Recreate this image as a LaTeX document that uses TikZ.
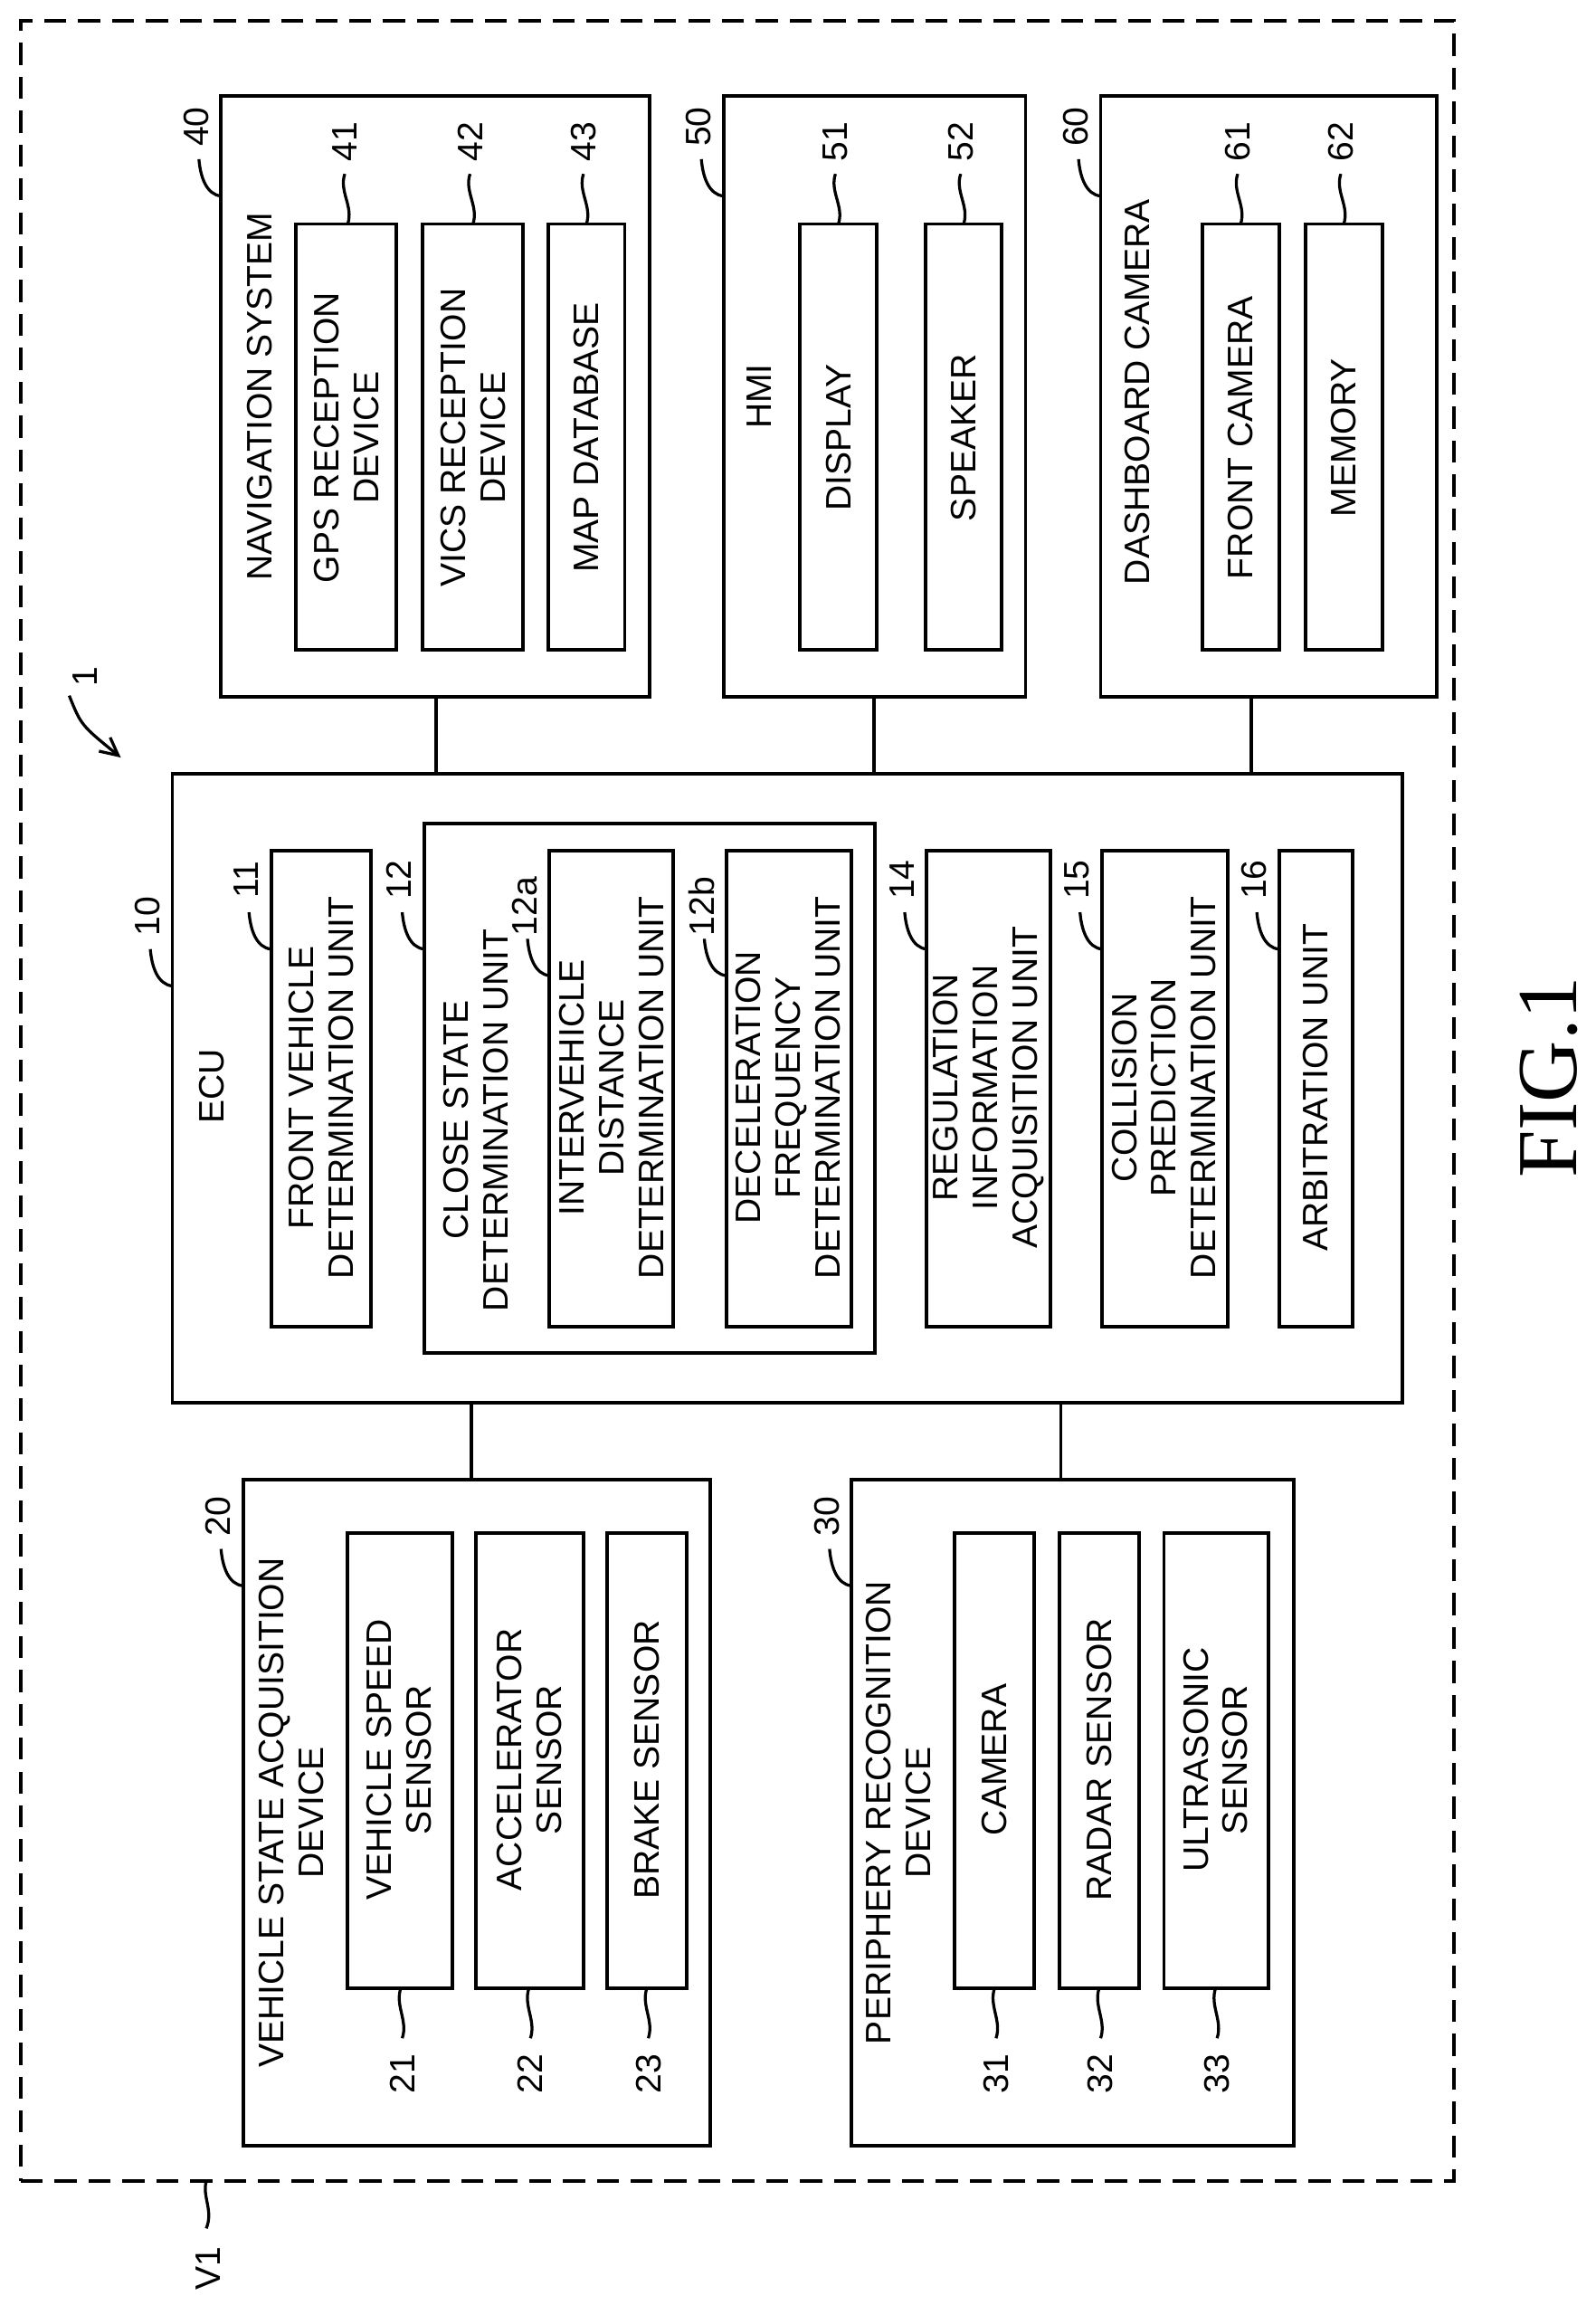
\documentclass[tikz,border=0pt]{standalone}
\usepackage{fontspec}
\setmainfont{Liberation Sans}
\newfontfamily\figfont{Liberation Serif}
\usetikzlibrary{fit,arrows.meta}
\begin{document}
\begin{tikzpicture}[x=1pt,y=-1pt,
  box/.style={draw,line width=2.4pt,inner sep=0pt},
  txt/.style={rotate=90,align=center,font=\fontsize{24}{27}\selectfont,inner sep=0pt},
  num/.style={rotate=90,font=\fontsize{24}{27}\selectfont,inner sep=0pt},
  ld/.style={line width=2pt},
  conn/.style={line width=2.4pt}]
\useasboundingbox (0,0) rectangle (1083,1564);
\newcommand{\bx}[5]{\node[box,fit={(#2,#3) (#4,#5)}] (#1) {};}
% hook leader from box left edge, number above
\newcommand{\leadL}[4]{\coordinate (#1s) at (#2,#3);
  \coordinate (#1e) at ($(#2,#3)+(-15,-25)$);
  \draw[ld] (#1s) .. controls +(-10,-1) and +(1,12) .. (#1e);
  \node[num] (#1n) at ($(#2,#3)+(-17,-47)$) {#4};}
% wavy leader up from box top
\newcommand{\leadU}[4]{\coordinate (#1s) at (#2,#3);
  \coordinate (#1e) at ($(#2,#3)+(-2,-34)$);
  \draw[ld] (#1s) .. controls +(4,-12) and +(-4,12) .. (#1e);
  \node[num] (#1n) at ($(#2,#3)+(-2,-56)$) {#4};}
% wavy leader down from box bottom
\newcommand{\leadD}[4]{\coordinate (#1s) at (#2,#3);
  \coordinate (#1e) at ($(#2,#3)+(1,34)$);
  \draw[ld] (#1s) .. controls +(-4,12) and +(4,-12) .. (#1e);
  \node[num] (#1n) at ($(#2,#3)+(1,58)$) {#4};}
\usetikzlibrary{calc}

% outer dashed frame
\node[draw,line width=2.4pt,dash pattern=on 15pt off 8pt,inner sep=0pt,fit={(14,14) (987,1480)}] (v1) {};

% navigation
\bx{nav}{150}{65}{441}{473}
\node[txt] (navt) at (176,269) {NAVIGATION SYSTEM};
\bx{gps}{201}{152}{269}{441}
\node[txt] (gpst) at (235,297) {GPS RECEPTION\\DEVICE};
\bx{vics}{287}{152}{355}{441}
\node[txt] (vicst) at (321,297) {VICS RECEPTION\\DEVICE};
\bx{map}{372}{152}{424}{441}
\node[txt] (mapt) at (398,297) {MAP DATABASE};
\leadL{l40}{150}{133}{40}
\leadU{l41}{236}{152}{41}
\leadU{l42}{321}{152}{42}
\leadU{l43}{398}{152}{43}

% HMI
\bx{hmi}{491}{65}{696}{473}
\node[txt] (hmit) at (515,269) {HMI};
\bx{disp}{543}{152}{595}{441}
\node[txt] (dispt) at (569,297) {DISPLAY};
\bx{spk}{628}{152}{680}{441}
\node[txt] (spkt) at (654,297) {SPEAKER};
\leadL{l50}{491}{133}{50}
\leadU{l51}{569}{152}{51}
\leadU{l52}{654}{152}{52}

% dashboard camera
\bx{dash}{747}{65}{975}{473}
\node[txt] (dasht) at (772,266) {DASHBOARD CAMERA};
\bx{fcam}{816}{152}{868}{441}
\node[txt] (fcamt) at (842,297) {FRONT CAMERA};
\bx{mem}{886}{152}{938}{441}
\node[txt] (memt) at (912,297) {MEMORY};
\leadL{l60}{747}{133}{60}
\leadU{l61}{842}{152}{61}
\leadU{l62}{912}{152}{62}

% ECU
\bx{ecu}{117}{525}{952}{952}
\node[txt] (ecut) at (144,737) {ECU};
\bx{fv}{184}{577}{252}{900}
\node[txt] (fvt) at (218,738) {FRONT VEHICLE\\DETERMINATION UNIT};
\bx{cs}{288}{559}{594}{918}
\node[txt] (cst) at (323,760) {CLOSE STATE\\DETERMINATION UNIT};
\bx{iv}{373}{577}{457}{900}
\node[txt] (ivt) at (415,738) {INTERVEHICLE\\DISTANCE\\DETERMINATION UNIT};
\bx{dc}{493}{577}{578}{900}
\node[txt] (dct) at (535,738) {DECELERATION\\FREQUENCY\\DETERMINATION UNIT};
\bx{rg}{629}{577}{713}{900}
\node[txt] (rgt) at (671,738) {REGULATION\\INFORMATION\\ACQUISITION UNIT};
\bx{co}{748}{577}{833}{900}
\node[txt] (cot) at (790,738) {COLLISION\\PREDICTION\\DETERMINATION UNIT};
\bx{ar}{868}{577}{918}{900}
\node[txt] (art) at (893,738) {ARBITRATION UNIT};
\leadL{l10}{117}{669}{10}
\leadL{l11}{184}{644}{11}
\leadL{l12}{288}{644}{12}
\leadL{l12a}{373}{662}{12a}
\leadL{l12b}{493}{662}{12b}
\leadL{l14}{629}{644}{14}
\leadL{l15}{748}{644}{15}
\leadL{l16}{868}{644}{16}

% vehicle state acquisition
\bx{vs}{165}{1004}{482}{1456}
\node[txt] (vst) at (198,1230) {VEHICLE STATE ACQUISITION\\DEVICE};
\bx{vss}{236}{1040}{307}{1349}
\node[txt] (vsst) at (271,1194) {VEHICLE SPEED\\SENSOR};
\bx{acc}{323}{1040}{396}{1349}
\node[txt] (acct) at (359,1194) {ACCELERATOR\\SENSOR};
\bx{brk}{412}{1040}{466}{1349}
\node[txt] (brkt) at (439,1194) {BRAKE SENSOR};
\leadL{l20}{165}{1076}{20}
\leadD{l21}{272}{1349}{21}
\leadD{l22}{359}{1349}{22}
\leadD{l23}{439}{1349}{23}

% periphery recognition
\bx{pr}{578}{1004}{878}{1456}
\node[txt] (prt) at (610,1230) {PERIPHERY RECOGNITION\\DEVICE};
\bx{cam}{648}{1040}{702}{1349}
\node[txt] (camt) at (675,1194) {CAMERA};
\bx{rad}{719}{1040}{773}{1349}
\node[txt] (radt) at (746,1194) {RADAR SENSOR};
\bx{us}{790}{1040}{861}{1349}
\node[txt] (ust) at (825,1194) {ULTRASONIC\\SENSOR};
\leadL{l30}{578}{1076}{30}
\leadD{l31}{675}{1349}{31}
\leadD{l32}{746}{1349}{32}
\leadD{l33}{825}{1349}{33}

% connectors
\draw[conn] (nav.south -| 296,0) -- (ecu.north -| 296,0);
\draw[conn] (hmi.south -| 593,0) -- (ecu.north -| 593,0);
\draw[conn] (dash.south -| 849,0) -- (ecu.north -| 849,0);
\draw[conn] (ecu.south -| 320,0) -- (vs.north -| 320,0);
\draw[conn] (ecu.south -| 720,0) -- (pr.north -| 720,0);

% system label 1
\node[num] (sys) at (58,459) {1};
\coordinate (sysa) at (47,472);
\coordinate (sysb) at (82,514);
\draw[line width=2pt,-{Straight Barb[length=12pt,width=12pt]}] (sysa) .. controls (55,492) .. (sysb);
\draw[ld] (sys.south) ++(0,0) -- +(0,0);

% V1
\coordinate (v1s) at (140,1480);
\coordinate (v1e) at (140,1512);
\draw[ld] (v1s) .. controls (137,1490) and (145,1500) .. (v1e);
\node[num] (v1t) at (141,1539) {V1};

% figure caption
\node[rotate=90,font=\figfont\fontsize{58}{60}\selectfont,inner sep=0pt] (fig) at (1051,731) {FIG.1};
\end{tikzpicture}
\end{document}
